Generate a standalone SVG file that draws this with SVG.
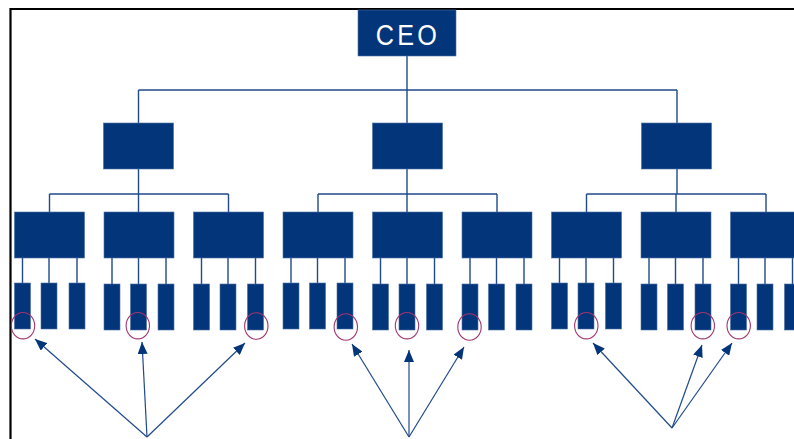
<svg xmlns="http://www.w3.org/2000/svg" width="794" height="439" viewBox="0 0 794 439">
  <defs>
    <style>
      .box { fill: #03357a; stroke: #4a6ea6; stroke-width: 0.6; }
      .ln { fill: none; stroke: #1f4a8c; stroke-width: 1.4; }
      .ring { fill: none; stroke: #a3346e; stroke-width: 1.1; }
      .arr { fill: none; stroke: #1f4a8c; stroke-width: 1.2; marker-end: url(#head); }
      .frame { fill: none; stroke: #000; stroke-width: 2.2; }
      .title { font-family: "Liberation Sans", Arial, sans-serif; font-size: 30px; fill: #fff; letter-spacing: 4px; }
    </style>
    <marker id="head" viewBox="0 0 12 10" refX="12" refY="5" markerWidth="12" markerHeight="10" markerUnits="userSpaceOnUse" orient="auto">
      <path d="M0,0 L12,5 L0,10 z" fill="#03357a"/>
    </marker>
  </defs>

  <rect width="794" height="439" fill="#fff"/>

  <!-- page frame -->
  <path class="frame" d="M10.5,439 V9 H794"/>

  <!-- connectors -->
  <g id="connectors">
    <!-- CEO to level 2 -->
    <path class="ln" d="M407,56 V90 M138.5,90 H677 M138.5,90 V123 M407,90 V123 M677,90 V123"/>
    <!-- level 2 to level 3 -->
    <path class="ln" d="M138.5,169 V194 M49.5,194 H228.5 M49.5,194 V212 M138.5,194 V212 M228.5,194 V212"/>
    <path class="ln" d="M407,169 V194 M318,194 H497 M318,194 V212 M407,194 V212 M497,194 V212"/>
    <path class="ln" d="M677,169 V194 M586.5,194 H766 M586.5,194 V212 M676,194 V212 M766,194 V212"/>
    <!-- level 3 to leaves -->
    <path class="ln" d="M22.5,258 V283 M49,258 V283 M77,258 V283"/>
    <path class="ln" d="M112,258 V284 M138.5,258 V284 M166,258 V284"/>
    <path class="ln" d="M201.5,258 V284 M228,258 V284 M255.5,258 V284"/>
    <path class="ln" d="M291,258 V283 M317.5,258 V283 M345,258 V283"/>
    <path class="ln" d="M380.5,258 V284 M407,258 V284 M434.5,258 V284"/>
    <path class="ln" d="M470,258 V284 M496.5,258 V284 M524,258 V284"/>
    <path class="ln" d="M559.5,258 V283 M586,258 V283 M613.5,258 V283"/>
    <path class="ln" d="M649,258 V284 M675.5,258 V284 M703,258 V284"/>
    <path class="ln" d="M738.5,258 V284 M765,258 V284 M792.5,258 V284"/>
    <!-- pointer arrows -->
    <path class="arr" d="M147,437 L35,339"/>
    <path class="arr" d="M147,437 L142,342"/>
    <path class="arr" d="M147,437 L245,343"/>
    <path class="arr" d="M409,437 L352,344"/>
    <path class="arr" d="M409,437 L409,350"/>
    <path class="arr" d="M409,437 L464,347"/>
    <path class="arr" d="M672,428 L593,343"/>
    <path class="arr" d="M672,428 L702,345"/>
    <path class="arr" d="M672,428 L732,343"/>
  </g>

  <!-- top node -->
  <g id="ceo">
    <rect class="box" x="358" y="10" width="98" height="46"/>
    <text class="title" x="0" y="45" text-anchor="middle" transform="translate(408,0) scale(0.84,1)">CEO</text>
  </g>

  <!-- level 2 -->
  <g id="mgr-1"><rect class="box" x="103.5" y="123" width="70" height="46"/></g>
  <g id="mgr-2"><rect class="box" x="372.5" y="123" width="70" height="46"/></g>
  <g id="mgr-3"><rect class="box" x="641.5" y="123" width="70" height="46"/></g>

  <!-- level 3 -->
  <g id="lead-1"><rect class="box" x="14.5" y="212" width="70" height="46"/></g>
  <g id="lead-2"><rect class="box" x="104" y="212" width="70" height="46"/></g>
  <g id="lead-3"><rect class="box" x="193.5" y="212" width="70" height="46"/></g>
  <g id="lead-4"><rect class="box" x="283" y="212" width="70" height="46"/></g>
  <g id="lead-5"><rect class="box" x="372.5" y="212" width="70" height="46"/></g>
  <g id="lead-6"><rect class="box" x="462" y="212" width="70" height="46"/></g>
  <g id="lead-7"><rect class="box" x="551.5" y="212" width="70" height="46"/></g>
  <g id="lead-8"><rect class="box" x="641" y="212" width="70" height="46"/></g>
  <g id="lead-9"><rect class="box" x="730.5" y="212" width="70" height="46"/></g>

  <!-- leaves -->
  <g id="team-1">
    <rect class="box" x="14.5" y="283" width="16" height="46"/>
    <rect class="box" x="41" y="283" width="16" height="46"/>
    <rect class="box" x="69" y="283" width="16" height="46"/>
  </g>
  <g id="team-2">
    <rect class="box" x="104" y="284" width="16" height="46"/>
    <rect class="box" x="130.5" y="284" width="16" height="46"/>
    <rect class="box" x="158" y="284" width="16" height="46"/>
  </g>
  <g id="team-3">
    <rect class="box" x="193.5" y="284" width="16" height="46"/>
    <rect class="box" x="220" y="284" width="16" height="46"/>
    <rect class="box" x="247.5" y="284" width="16" height="46"/>
  </g>
  <g id="team-4">
    <rect class="box" x="283" y="283" width="16" height="46"/>
    <rect class="box" x="309.5" y="283" width="16" height="46"/>
    <rect class="box" x="337" y="283" width="16" height="46"/>
  </g>
  <g id="team-5">
    <rect class="box" x="372.5" y="284" width="16" height="46"/>
    <rect class="box" x="399" y="284" width="16" height="46"/>
    <rect class="box" x="426.5" y="284" width="16" height="46"/>
  </g>
  <g id="team-6">
    <rect class="box" x="462" y="284" width="16" height="46"/>
    <rect class="box" x="488.5" y="284" width="16" height="46"/>
    <rect class="box" x="516" y="284" width="16" height="46"/>
  </g>
  <g id="team-7">
    <rect class="box" x="551.5" y="283" width="16" height="46"/>
    <rect class="box" x="578" y="283" width="16" height="46"/>
    <rect class="box" x="605.5" y="283" width="16" height="46"/>
  </g>
  <g id="team-8">
    <rect class="box" x="641" y="284" width="16" height="46"/>
    <rect class="box" x="667.5" y="284" width="16" height="46"/>
    <rect class="box" x="695" y="284" width="16" height="46"/>
  </g>
  <g id="team-9">
    <rect class="box" x="730.5" y="284" width="16" height="46"/>
    <rect class="box" x="757" y="284" width="16" height="46"/>
    <rect class="box" x="784.5" y="284" width="16" height="46"/>
  </g>

  <!-- highlight rings -->
  <g id="rings">
    <ellipse class="ring" cx="23" cy="325.7" rx="11.7" ry="13.2"/>
    <ellipse class="ring" cx="137.8" cy="325.7" rx="11.7" ry="13.2"/>
    <ellipse class="ring" cx="256.3" cy="326" rx="11.7" ry="13.2"/>
    <ellipse class="ring" cx="345.8" cy="327" rx="11.7" ry="13.2"/>
    <ellipse class="ring" cx="407" cy="325.7" rx="11.7" ry="13.2"/>
    <ellipse class="ring" cx="469.5" cy="327" rx="11.7" ry="13.2"/>
    <ellipse class="ring" cx="586.3" cy="325.7" rx="11.7" ry="13.2"/>
    <ellipse class="ring" cx="702.8" cy="325.7" rx="11.7" ry="13.2"/>
    <ellipse class="ring" cx="738.7" cy="325.7" rx="11.7" ry="13.2"/>
  </g>
</svg>
